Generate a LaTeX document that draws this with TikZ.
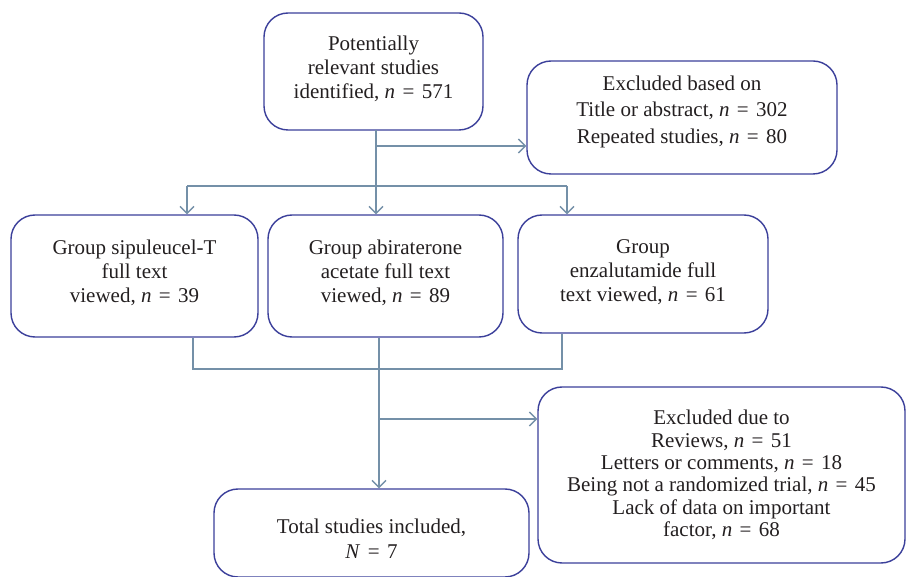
\documentclass[tikz,border=0pt]{standalone}
\usepackage{fontspec}
\setmainfont{Liberation Serif}
\usetikzlibrary{arrows.meta}
\definecolor{boxc}{HTML}{3B3F9A}
\definecolor{linec}{HTML}{7490A8}
\definecolor{txtc}{HTML}{231F20}
\newcommand{\nn}{\textit{n}\hspace{0.35em}=\hspace{0.35em}}
\tikzset{
  box/.style={draw=boxc, line width=1.4pt, rounded corners=24pt, inner sep=0pt},
  txt/.style={align=center, text=txtc, font=\fontsize{21}{24}\selectfont, inner sep=0pt},
  conn/.style={draw=linec, line width=1.3pt},
  arr/.style={conn, -{Straight Barb[length=7pt,width=14pt,line width=1.3pt]}}
}
\begin{document}
\begin{tikzpicture}[x=1pt,y=-1pt]
\useasboundingbox (0,0) rectangle (906,577);
% boxes
\node[box, minimum width=219pt, minimum height=117pt] (b1) at (373.5,71.5) {};
\node[box, minimum width=310pt, minimum height=113pt] (b2) at (682,117.5) {};
\node[box, minimum width=247pt, minimum height=122pt] (b3) at (134.5,276) {};
\node[box, minimum width=235pt, minimum height=122pt] (b4) at (385.5,276) {};
\node[box, minimum width=250pt, minimum height=118pt] (b5) at (643,274) {};
\node[box, minimum width=367pt, minimum height=176pt] (b6) at (721.5,475) {};
\node[box, minimum width=315pt, minimum height=88pt] (b7) at (371.5,533) {};
% texts
\node[txt] (t1) at ([yshift=3pt]b1.center) {Potentially\\relevant studies\\identified, \nn 571};
\node[txt, font=\fontsize{21}{26.5}\selectfont] (t2) at ([yshift=6pt]b2.center) {Excluded based on\\Title or abstract, \nn 302\\Repeated studies, \nn 80};
\node[txt] (t3) at ([yshift=3.5pt]b3.center) {Group sipuleucel-T\\full text\\viewed, \nn 39};
\node[txt] (t4) at ([yshift=3.5pt]b4.center) {Group abiraterone\\acetate full text\\viewed, \nn 89};
\node[txt] (t5) at ([yshift=1.5pt]b5.center) {Group\\enzalutamide full\\text viewed, \nn 61};
\node[txt, font=\fontsize{21}{22.3}\selectfont] (t6) at (b6.center) {Excluded due to\\Reviews, \nn 51\\Letters or comments, \nn 18\\Being not a randomized trial, \nn 45\\Lack of data on important\\factor, \nn 68};
\node[txt, font=\fontsize{21}{25}\selectfont] (t7) at ([yshift=-6pt]b7.center) {Total studies included,\\\textit{N}\hspace{0.35em}=\hspace{0.35em}7};
% junction coordinates
\coordinate (s1) at (376,130);
\coordinate (j1) at (376,146);
\coordinate (j2) at (376,186);
\coordinate (l1) at (187,186);
\coordinate (r1) at (567,186);
\coordinate (s3) at (193,337);
\coordinate (s4) at (379,337);
\coordinate (s5) at (562,337);
\coordinate (m3) at (193,369);
\coordinate (m5) at (562,369);
\coordinate (j3) at (379,419);
% connectors
\draw[arr] (s1) -- (s1 |- b4.north);
\draw[arr] (j1) -- (j1 -| b2.west);
\draw[conn] (l1) -- (r1);
\draw[arr] (l1) -- (l1 |- b3.north);
\draw[arr] (r1) -- (r1 |- b5.north);
\draw[conn] (s3 |- b3.south) -- (m3) -- (m5) -- (s5 |- b5.south);
\draw[arr] (s4 |- b4.south) -- (s4 |- b7.north);
\draw[arr] (j3) -- (j3 -| b6.west);
\end{tikzpicture}
\end{document}
